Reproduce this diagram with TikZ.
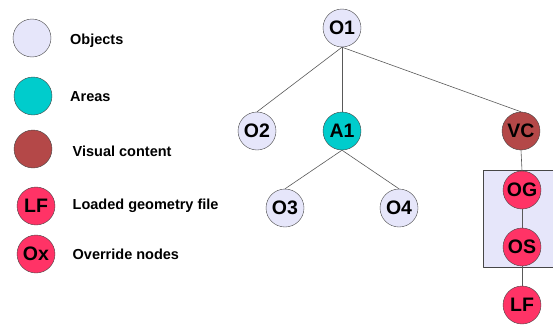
\documentclass[tikz,border=0pt]{standalone}
\usepackage{fontspec}
\setmainfont{Liberation Sans}
\usetikzlibrary{positioning}
\definecolor{objfill}{RGB}{230,230,250}
\definecolor{areafill}{RGB}{0,204,204}
\definecolor{vcfill}{RGB}{180,72,72}
\definecolor{ovfill}{RGB}{255,51,102}

\begin{document}
\begin{tikzpicture}[
  x=1pt, y=-1pt,
  line cap=round,
  line join=round,
  circnode/.style={
    circle, draw=gray!55!black, minimum size=38pt, inner sep=0pt,
    font=\fontsize{19.5}{20}\selectfont\bfseries
  },
  objnode/.style={circnode, fill=objfill},
  areanode/.style={circnode, fill=areafill},
  vcnode/.style={circnode, fill=vcfill},
  ovnode/.style={circnode, fill=ovfill},
  legendtext/.style={
    anchor=base west, inner sep=0pt,
    font=\fontsize{14.5}{16}\selectfont\bfseries
  },
  link/.style={gray!70!black, semithick}
]
  \useasboundingbox (0,0) rectangle (553,324);

  % Legend
  \node[objnode]  (legobj)  at (32,38)  {};
  \node[areanode] (legarea) at (33,96)  {};
  \node[vcnode]   (legvc)   at (33,149) {};
  \node[ovnode]   (leglf)   at (36,206) {LF};
  \node[ovnode]   (legox)   at (36,254) {Ox};

  \node[legendtext] (txtobj)  at (70,44)    {Objects};
  \node[legendtext] (txtarea) at (70,101.5) {Areas};
  \node[legendtext] (txtvc)   at (72.5,156) {Visual content};
  \node[legendtext] (txtlf)   at (72.5,209.5) {Loaded geometry file};
  \node[legendtext] (txtox)   at (72.5,259.5) {Override nodes};

  % Override group
  \draw[gray!55!black, fill=objfill]
    (483,170) rectangle (556,267);

  % Tree
  \node[objnode]  (o1) at (342,28)  {O1};
  \node[objnode]  (o2) at (257,131) {O2};
  \node[areanode] (a1) at (342,131) {A1};
  \node[vcnode]   (vc) at (521,131) {VC};
  \node[objnode]  (o3) at (285,208) {O3};
  \node[objnode]  (o4) at (399,208) {O4};
  \node[ovnode]   (og) at (522,190) {OG};
  \node[ovnode]   (os) at (522,247) {OS};
  \node[ovnode]   (lf) at (522,305) {LF};

  % Links
  \foreach \a/\b in {o1/o2, o1/a1, o1/vc, a1/o3, a1/o4, vc/og, og/os, os/lf} {
    \draw[link] (\a.south) -- (\b.north);
  }
\end{tikzpicture}
\end{document}
